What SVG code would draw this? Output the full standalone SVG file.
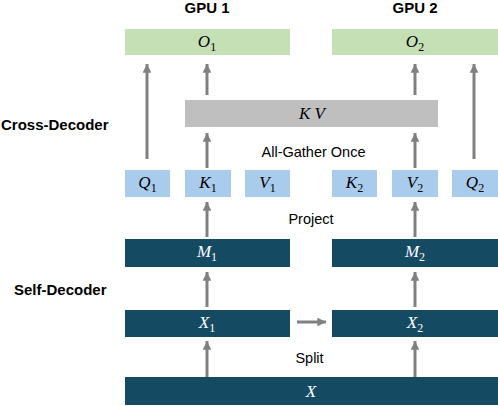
<svg xmlns="http://www.w3.org/2000/svg" width="498" height="406" viewBox="0 0 498 406">
<defs>
<marker id="ah" viewBox="0 0 10 10" refX="10" refY="5" markerWidth="2.9" markerHeight="2.9" orient="auto" markerUnits="strokeWidth">
<path d="M0,0 L10,5 L0,10 z" fill="#808080"/>
</marker>
<style>
.green{fill:#C5E0B4}
.gray{fill:#BFBFBF}
.blue{fill:#A9CCEC}
.dark{fill:#144A62}
.m{font-family:"Liberation Serif","DejaVu Serif",serif;font-style:italic;font-size:17px;text-anchor:middle;fill:#000}
.mw{fill:#fff}
.sub{font-style:normal;font-size:12px}
.lbl{font-family:"Liberation Sans",Arial,sans-serif;font-size:14.5px;fill:#000}
.bold{font-weight:bold;font-size:15px}
.arr{stroke:#808080;stroke-width:3;fill:none;marker-end:url(#ah)}
</style>
</defs>
<rect width="498" height="406" fill="#fff"/>
<g id="labels">
<text class="lbl bold" x="207" y="13" text-anchor="middle">GPU 1</text>
<text class="lbl bold" x="415" y="13" text-anchor="middle">GPU 2</text>
<text class="lbl bold" x="1" y="130">Cross-Decoder</text>
<text class="lbl bold" x="14" y="295">Self-Decoder</text>
<text class="lbl" x="313.5" y="157" text-anchor="middle" font-size="15">All-Gather Once</text>
<text class="lbl" x="311" y="224" text-anchor="middle" font-size="15">Project</text>
<text class="lbl" x="309.5" y="363" text-anchor="middle" font-size="15">Split</text>
</g>
<g id="O1"><rect class="green" x="125" y="29" width="165" height="26"/><text class="m" x="207" y="47">O<tspan class="sub" dy="4">1</tspan></text></g>
<g id="O2"><rect class="green" x="332" y="29" width="166" height="26"/><text class="m" x="415" y="47">O<tspan class="sub" dy="4">2</tspan></text></g>
<g id="KV"><rect class="gray" x="185" y="100" width="253" height="27"/><text class="m" x="312" y="119">K  V</text></g>
<g id="Q1"><rect class="blue" x="125" y="170" width="45" height="27"/><text class="m" x="147.5" y="188">Q<tspan class="sub" dy="4">1</tspan></text></g>
<g id="K1"><rect class="blue" x="185" y="170" width="46" height="27"/><text class="m" x="208" y="188">K<tspan class="sub" dy="4">1</tspan></text></g>
<g id="V1"><rect class="blue" x="245" y="170" width="45" height="27"/><text class="m" x="267.5" y="188">V<tspan class="sub" dy="4">1</tspan></text></g>
<g id="K2"><rect class="blue" x="332" y="170" width="45" height="27"/><text class="m" x="354.5" y="188">K<tspan class="sub" dy="4">2</tspan></text></g>
<g id="V2"><rect class="blue" x="392" y="170" width="46" height="27"/><text class="m" x="415" y="188">V<tspan class="sub" dy="4">2</tspan></text></g>
<g id="Q2"><rect class="blue" x="452" y="170" width="46" height="27"/><text class="m" x="475" y="188">Q<tspan class="sub" dy="4">2</tspan></text></g>
<g id="M1"><rect class="dark" x="125" y="239" width="165" height="28"/><text class="m mw" x="207" y="257">M<tspan class="sub" dy="4">1</tspan></text></g>
<g id="M2"><rect class="dark" x="332" y="239" width="166" height="28"/><text class="m mw" x="415" y="257">M<tspan class="sub" dy="4">2</tspan></text></g>
<g id="X1"><rect class="dark" x="125" y="310" width="165" height="27"/><text class="m mw" x="207" y="328">X<tspan class="sub" dy="4">1</tspan></text></g>
<g id="X2"><rect class="dark" x="332" y="310" width="166" height="27"/><text class="m mw" x="415" y="328">X<tspan class="sub" dy="4">2</tspan></text></g>
<g id="X"><rect class="dark" x="125" y="377" width="373" height="28"/><text class="m mw" x="311" y="397">X</text></g>
<g id="connectors">
<line class="arr" x1="147" y1="159" x2="147" y2="64"/>
<line class="arr" x1="207" y1="95" x2="207" y2="64"/>
<line class="arr" x1="415" y1="95" x2="415" y2="64"/>
<line class="arr" x1="474" y1="159" x2="474" y2="64"/>
<line class="arr" x1="207" y1="168" x2="207" y2="133"/>
<line class="arr" x1="415" y1="168" x2="415" y2="133"/>
<line class="arr" x1="207" y1="237" x2="207" y2="202"/>
<line class="arr" x1="415" y1="237" x2="415" y2="202"/>
<line class="arr" x1="207" y1="307" x2="207" y2="272"/>
<line class="arr" x1="415" y1="307" x2="415" y2="272"/>
<line class="arr" x1="207" y1="377" x2="207" y2="341"/>
<line class="arr" x1="415" y1="377" x2="415" y2="341"/>
<line class="arr" x1="297" y1="322" x2="326" y2="322"/>
</g>
</svg>
